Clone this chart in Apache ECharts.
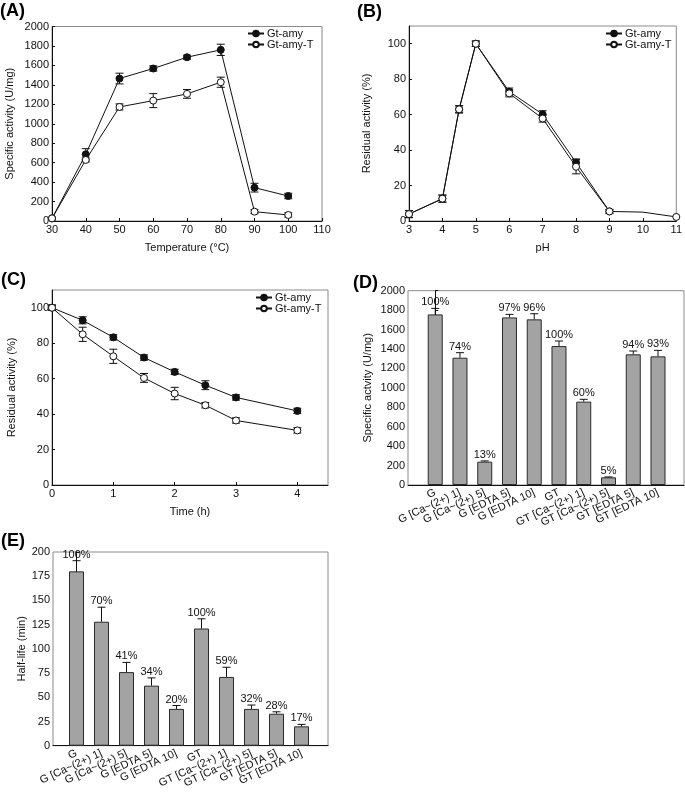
<!DOCTYPE html>
<html>
<head>
<meta charset="utf-8">
<script src="https://cdn.jsdelivr.net/npm/echarts@6/dist/echarts.min.js"></script>
<style>
html,body{margin:0;padding:0;background:#fff;}
#chart{width:685px;height:801px;}
</style>
</head>
<body>
<div id="chart"></div>
<script>
// ---- Panel A: temperature ----
const tempX = [30, 40, 50, 60, 70, 80, 90, 100];
const tempAmy = [27, 686, 1465, 1568, 1684, 1760, 343, 257];
const tempAmyErr = [8, 58, 55, 27, 21, 58, 45, 28];
const tempAmyT = [27, 628, 1173, 1238, 1307, 1427, 96, 62];
const tempAmyTErr = [8, 20, 31, 72, 45, 52, 20, 22];

// ---- Panel B: pH ----
const phX = [3, 4, 4.5, 5, 6, 7, 8, 9, 10, 11];
const phAmy = [3.9, 12.6, 63, 100, 73, 60.2, 33, 5.4];
const phAmyErr = [2, 2, 2, 1.5, 2, 2, 2, 1];
const phAmyT = [3.9, 12.6, 63, 100, 72, 57.8, 30.6, 5.4, 5, 2.3];
const phAmyTErr = [2, 2, 2, 1.5, 2, 2, 4, 1, 0, 0];

// ---- Panel C: time ----
const timeX = [0, 0.5, 1, 1.5, 2, 2.5, 3, 4];
const timeAmy = [100, 92.9, 83.3, 71.9, 63.8, 56.3, 49.4, 41.8];
const timeAmyErr = [1.5, 2, 1.5, 1.5, 1.5, 2.5, 1.5, 1.5];
const timeAmyT = [100, 85, 72.6, 60.4, 51.6, 45, 36.4, 30.8];
const timeAmyTErr = [1.5, 4, 4, 2.5, 3.5, 1.5, 1.5, 1.5];

// ---- Panels D & E: bars ----
const barCats = ['G', 'G [Ca~(2+) 1]', 'G [Ca~(2+) 5]', 'G [EDTA 5]', 'G [EDTA 10]',
  'GT', 'GT [Ca~(2+) 1]', 'GT [Ca~(2+) 5]', 'GT [EDTA 5]', 'GT [EDTA 10]'];
const actVals = [1756, 1310, 240, 1725, 1705, 1430, 858, 79, 1345, 1324];
const actErr = [62, 52, 8, 31, 58, 52, 24, 4, 34, 62];
const actPct = ['100%', '74%', '13%', '97%', '96%', '100%', '60%', '5%', '94%', '93%'];
const halfVals = [180, 128, 76, 62, 38, 121, 71, 38, 33, 20];
const halfErr = [11, 15, 10, 8, 3.5, 10, 10, 4, 2, 2];
const halfPct = ['100%', '70%', '41%', '34%', '20%', '100%', '59%', '32%', '28%', '17%'];

const FONT = 'Liberation Sans, Arial, sans-serif';
const INK = '#111';

function pairs(xs, ys) { return ys.map((y, i) => [xs[i], y]); }
function triples(xs, ys, es) { return ys.map((y, i) => [xs[i], y, es[i]]); }

function errRender(capHalf, upOnly, labels) {
  return function (params, api) {
    const x = api.value(0), y = api.value(1), e = api.value(2);
    const children = [];
    const p = api.coord([x, y]);
    const top = api.coord([x, y + e]);
    const bot = upOnly ? p : api.coord([x, y - e]);
    const st = { stroke: INK, lineWidth: 1 };
    if (e > 0) {
      children.push({ type: 'line', shape: { x1: top[0], y1: top[1], x2: bot[0], y2: bot[1] }, style: st });
      children.push({ type: 'line', shape: { x1: top[0] - capHalf, y1: top[1], x2: top[0] + capHalf, y2: top[1] }, style: st });
      if (!upOnly) children.push({ type: 'line', shape: { x1: bot[0] - capHalf, y1: bot[1], x2: bot[0] + capHalf, y2: bot[1] }, style: st });
    }
    if (labels) {
      children.push({ type: 'text', style: { text: labels[params.dataIndex], x: top[0], y: top[1] - 0.5,
        align: 'center', verticalAlign: 'bottom', fontSize: 11, fontFamily: FONT, fill: INK } });
    }
    return { type: 'group', children };
  };
}

const axisLineSt = { show: true, lineStyle: { color: INK, width: 1 } };
const labelSt = { fontSize: 11, fontFamily: FONT, color: INK, margin: 3, formatter: v => String(v),
  showMinLabel: true, showMaxLabel: true };
const nameSt = { fontSize: 11, fontFamily: FONT, color: INK };
const tickSt = { show: true, inside: true, length: 3, lineStyle: { color: INK } };

function valAxis(gi, min, max, interval, name, gap, extra) {
  return Object.assign({
    type: 'value', gridIndex: gi, min, max, interval,
    name, nameLocation: 'middle', nameGap: gap, nameTextStyle: nameSt,
    axisLine: axisLineSt, axisTick: tickSt, axisLabel: labelSt,
    splitLine: { show: false }
  }, extra || {});
}

const grids = [
  { left: 52, top: 26.5, width: 270, height: 194.5 },
  { left: 409, top: 26, width: 272, height: 195 },
  { left: 52, top: 290, width: 276, height: 195 },
  { left: 408, top: 290.7, width: 276, height: 194.3 },
  { left: 53, top: 552, width: 275, height: 193.7 }
].map(g => Object.assign(g, { show: true, borderColor: '#8a8a8a', borderWidth: 1, backgroundColor: 'transparent' }));

// category labels are split across two stacked bottom axes (even / odd indices)
function catLabel(parity) {
  return Object.assign({}, labelSt, {
    customValues: barCats.map((c, i) => i).filter(i => i % 2 === parity), rotate: 25, margin: 7,
    formatter: v => barCats[Math.round(v)] || '', hideOverlap: false
  });
}
const noMaxLabel = Object.assign({}, labelSt, { showMaxLabel: false });

const xAxes = [
  valAxis(0, 30, 110, 10, 'Temperature (°C)', 21),
  valAxis(1, 3, 11, 1, 'pH', 21),
  valAxis(2, 0, 4.5, 1, 'Time (h)', 21, { axisLabel: noMaxLabel }),
  valAxis(3, -1.1, 10.05, null, '', 0, { position: 'bottom', axisTick: { show: false }, axisLabel: catLabel(0) }),
  valAxis(4, -0.94, 10.06, null, '', 0, { position: 'bottom', axisTick: { show: false }, axisLabel: catLabel(0) }),
  valAxis(3, -1.1, 10.05, null, '', 0, { position: 'bottom', offset: 0, axisLine: { show: false }, axisTick: { show: false }, axisLabel: catLabel(1) }),
  valAxis(4, -0.94, 10.06, null, '', 0, { position: 'bottom', offset: 0, axisLine: { show: false }, axisTick: { show: false }, axisLabel: catLabel(1) })
];
const yAxes = [
  valAxis(0, 0, 2000, 200, 'Specific activity (U/mg)', 37),
  valAxis(1, 0, 110, 20, 'Residual activity (%)', 37, { axisLabel: noMaxLabel }),
  valAxis(2, 0, 110, 20, 'Residual activity (%)', 35, { axisLabel: noMaxLabel }),
  valAxis(3, 0, 2000, 200, 'Specific actvity (U/mg)', 35),
  valAxis(4, 0, 200, 25, 'Half-life (min)', 23)
];

function lineSeries(name, idx, data, filled, extra) {
  return Object.assign({
    type: 'line', name, xAxisIndex: idx, yAxisIndex: idx, data,
    symbol: 'circle', symbolSize: 7, z: 5,
    lineStyle: { color: INK, width: 1 },
    itemStyle: filled ? { color: INK, borderColor: INK, borderWidth: 1 } : { color: '#fff', borderColor: INK, borderWidth: 1 },
    emphasis: { disabled: true }
  }, extra || {});
}
function errSeries(idx, data, capHalf, upOnly, labels) {
  return {
    type: 'custom', xAxisIndex: idx, yAxisIndex: idx, data, z: 4,
    renderItem: errRender(capHalf, upOnly, labels), encode: { x: 0, y: 1 }, silent: true
  };
}
function barSeries(idx, vals) {
  return {
    type: 'bar', xAxisIndex: idx, yAxisIndex: idx, barWidth: 15,
    data: vals.map((v, i) => [i, v]),
    itemStyle: { color: '#a3a3a3', borderColor: '#2a2a2a', borderWidth: 1 },
    emphasis: { disabled: true }
  };
}

const phTData = pairs(phX, phAmyT).map((d, i) => phX[i] === 10 ? { value: d, symbol: 'none' } : d);

const series = [
  errSeries(0, triples(tempX, tempAmy, tempAmyErr), 4, false),
  errSeries(0, triples(tempX, tempAmyT, tempAmyTErr), 4, false),
  lineSeries('Gt-amy', 0, pairs(tempX, tempAmy), true),
  lineSeries('Gt-amy-T', 0, pairs(tempX, tempAmyT), false),

  errSeries(1, triples(phX, phAmy, phAmyErr), 4, false),
  errSeries(1, triples(phX, phAmyT, phAmyTErr), 4, false),
  lineSeries('Gt-amy', 1, pairs(phX, phAmy), true),
  lineSeries('Gt-amy-T', 1, phTData, false),

  errSeries(2, triples(timeX, timeAmy, timeAmyErr), 4, false),
  errSeries(2, triples(timeX, timeAmyT, timeAmyTErr), 4, false),
  lineSeries('Gt-amy', 2, pairs(timeX, timeAmy), true),
  lineSeries('Gt-amy-T', 2, pairs(timeX, timeAmyT), false),

  barSeries(3, actVals),
  errSeries(3, triples(barCats.map((c, i) => i), actVals, actErr), 4, true, actPct),
  barSeries(4, halfVals),
  errSeries(4, triples(barCats.map((c, i) => i), halfVals, halfErr), 4, true, halfPct)
];

function legendAt(left, top) {
  return {
    left, top, orient: 'vertical', itemWidth: 16, itemHeight: 7, itemGap: 0,
    data: ['Gt-amy', 'Gt-amy-T'], selectedMode: false,
    textStyle: { fontSize: 11, fontFamily: FONT, color: INK, padding: [0, 0, 0, -2], lineHeight: 11 },
    padding: 0
  };
}

const titleSt = { fontSize: 18, fontWeight: 'bold', fontFamily: FONT, color: '#000' };
const option = {
  animation: false,
  backgroundColor: '#fff',
  title: [
    { text: '(A)', left: 0, top: 2, padding: 0, textStyle: titleSt },
    { text: '(B)', left: 357, top: 3, padding: 0, textStyle: titleSt },
    { text: '(C)', left: 1, top: 271, padding: 0, textStyle: titleSt },
    { text: '(D)', left: 353, top: 274, padding: 0, textStyle: titleSt },
    { text: '(E)', left: 1, top: 532, padding: 0, textStyle: titleSt }
  ],
  legend: [legendAt(247, 28), legendAt(605, 28), legendAt(255, 292)],
  grid: grids,
  xAxis: xAxes,
  yAxis: yAxes,
  series
};

const chart = echarts.init(document.getElementById('chart'), null, { renderer: 'canvas' });
chart.setOption(option);
</script>
</body>
</html>
